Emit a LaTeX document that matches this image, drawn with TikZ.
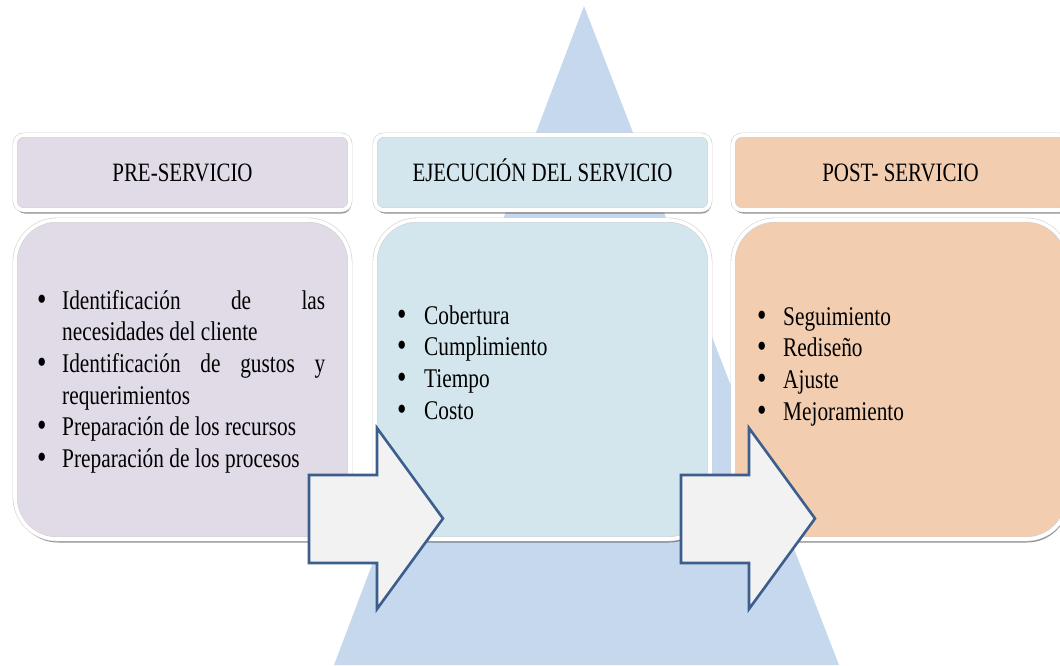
\documentclass[tikz,border=0pt]{standalone}
\usepackage{fontspec}
\setmainfont{Liberation Serif}[FakeStretch=0.79]
\usetikzlibrary{positioning,shadows}

\definecolor{tricolor}{RGB}{197,216,238}
\definecolor{prefill}{RGB}{225,219,232}
\definecolor{ejefill}{RGB}{211,229,237}
\definecolor{postfill}{RGB}{243,205,175}
\definecolor{arrowline}{RGB}{59,94,140}
\definecolor{arrowfill}{RGB}{242,242,242}

\tolerance=10000
\hyphenpenalty=10000
% bullet item with hanging indent
\newcommand{\itm}[1]{\par\noindent\hangindent=#1\hangafter=1%
  \makebox[#1][l]{\raisebox{-1pt}{\fontsize{34}{0}\selectfont\textbullet}}}

\begin{document}
\begin{tikzpicture}[x=1pt,y=-1pt,
  head/.style={draw=black!18, double=white, double distance=3.6pt, line width=0.6pt,
    outer sep=0pt, inner sep=0pt,
    rounded corners=9pt, minimum width=335pt, minimum height=75pt,
    text height=18pt, text depth=0pt, font=\fontsize{26.5}{30}\selectfont,
    drop shadow={shadow xshift=1pt, shadow yshift=-3.5pt, fill=black!70, opacity=0.6}},
  body/.style={head, rounded corners=42pt, minimum height=319pt},
  items/.style={anchor=north west, inner sep=0pt, font=\fontsize{27}{31.6}\selectfont},
  blockarrow/.style={draw=arrowline, fill=arrowfill, line width=2.6pt, line join=miter}]
\useasboundingbox (0,0) rectangle (1060,665);
\clip (0,0) rectangle (1060,665);

\fill [tricolor] (584,6) -- (839,665) -- (334,665) -- cycle;

\node [head, fill=prefill] (pre) at (182.5,172.5) {PRE-SERVICIO};
\node [head, fill=ejefill, right=25pt of pre] (eje) {EJECUCIÓN DEL SERVICIO};
\node [head, fill=postfill, right=23pt of eje] (post) {POST- SERVICIO};

\node [body, fill=prefill, below=10pt of pre] (prebody) {};
\node [body, fill=ejefill, below=10pt of eje] (ejebody) {};
\node [body, fill=postfill, below=10pt of post] (postbody) {};

\node [items, text width=288pt, align=justify] (prelist) at (37,277.5) {%
\itm{25pt}Identificación de las\linebreak necesidades del cliente
\itm{25pt}Identificación de gustos y\linebreak requerimientos
\itm{25pt}Preparación de los recursos
\itm{25pt}Preparación de los procesos};
\node [items, text width=300pt] (ejelist) at (397,292.5) {%
\itm{27pt}Cobertura
\itm{27pt}Cumplimiento
\itm{27pt}Tiempo
\itm{27pt}Costo};
\node [items, text width=290pt] (postlist) at (757,293.5) {%
\itm{26pt}Seguimiento
\itm{26pt}Rediseño
\itm{26pt}Ajuste
\itm{26pt}Mejoramiento};

\draw [blockarrow] (309,475) -- (377,475) -- (377,428) -- (443,518.5) -- (377,609) -- (377,563) -- (309,563) -- cycle;
\draw [blockarrow] (681,475) -- (749,475) -- (749,428) -- (815,518.5) -- (749,609) -- (749,563) -- (681,563) -- cycle;
\end{tikzpicture}
\end{document}
